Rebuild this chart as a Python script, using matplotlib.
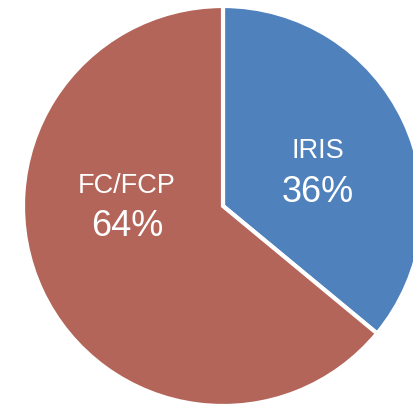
import matplotlib
matplotlib.use('Agg')
import matplotlib.pyplot as plt

labels = ['IRIS', 'FC/FCP']
values = [36, 64]
colors = ['#4F81BD', '#B3655A']

plt.rcParams['font.family'] = ['Liberation Sans', 'DejaVu Sans']

fig = plt.figure(figsize=(4.13, 4.09), dpi=100)
ax = fig.add_axes([0, 0, 1, 1])
ax.pie(values, colors=colors, startangle=90, counterclock=False,
       center=(223, 203), radius=200,
       wedgeprops=dict(edgecolor='white', linewidth=3))
ax.set_xlim(0, 413)
ax.set_ylim(0, 409)
ax.set_aspect('equal')
ax.axis('off')

# label positions (name, percentage)
pos = {'IRIS': (318, 258, 216), 'FC/FCP': (127, 223, 182)}
for lab, v in zip(labels, values):
    x, y1, y2 = pos[lab]
    ax.text(x, y1, lab, color='white', fontsize=19.5, ha='center', va='center')
    ax.text(x, y2, '{}%'.format(v), color='white', fontsize=26, ha='center', va='center')

fig.savefig('out.png', dpi=100)
